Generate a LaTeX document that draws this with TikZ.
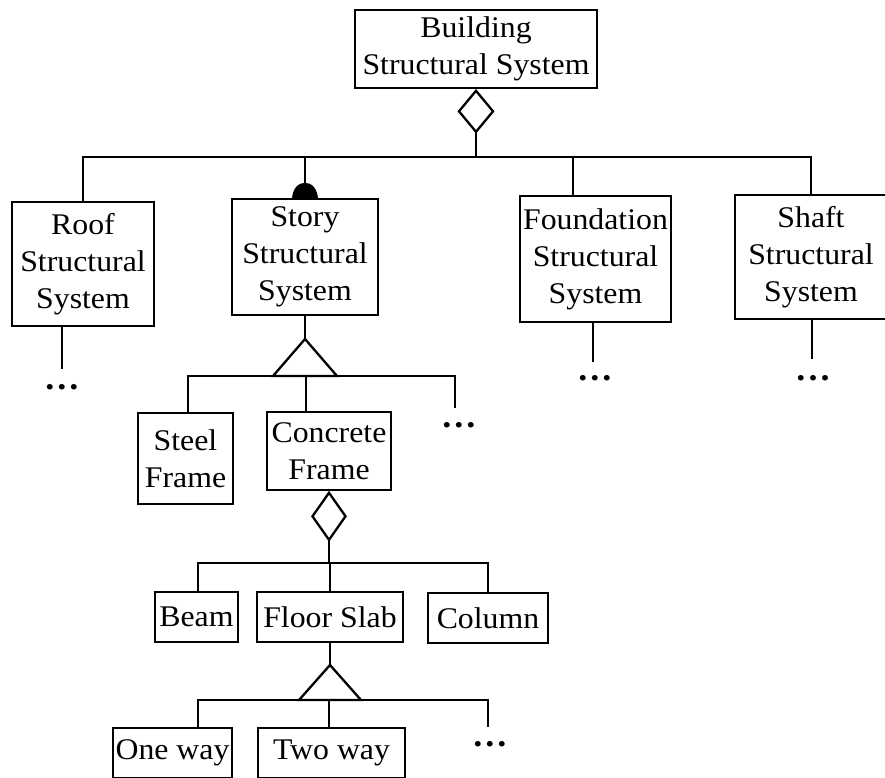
\documentclass[tikz,border=0pt]{standalone}
\usepackage{fontspec}
\setmainfont{Liberation Serif}[FakeStretch=1.06]
\usetikzlibrary{shapes.geometric}
\begin{document}
\begin{tikzpicture}[x=1pt,y=-1pt,
  cls/.style={draw, line width=2.3pt, align=center, inner sep=0pt,
    font=\fontsize{30}{37}\selectfont},
  link/.style={line width=2.3pt, line join=miter},
  agg/.style={draw, diamond, line width=2.3pt, inner sep=0pt, fill=white},
  more/.style={inner sep=0pt, font=\fontsize{34}{37}\selectfont\bfseries}
]
\useasboundingbox (0,0) rectangle (885,777);

% classes
\node[cls, minimum width=242pt, minimum height=78pt] (building) at (476,49) {Building\\Structural System};
\node[cls, minimum width=142pt, minimum height=124pt] (roof) at (83,264) {Roof\\Structural\\System};
\node[cls, minimum width=146pt, minimum height=116pt] (story) at (305,257) {Story\\Structural\\System};
\node[cls, minimum width=151pt, minimum height=126pt] (found) at (595.5,259) {Foundation\\Structural\\System};
\node[cls, minimum width=152pt, minimum height=124pt] (shaft) at (811,257) {Shaft\\Structural\\System};
\node[cls, minimum width=95pt, minimum height=91pt] (steel) at (185.5,458.5) {Steel\\Frame};
\node[cls, minimum width=124pt, minimum height=78pt] (concrete) at (329,451) {Concrete\\Frame};
\node[cls, minimum width=83pt, minimum height=50pt] (beam) at (196.5,617) {Beam};
\node[cls, minimum width=146pt, minimum height=50pt] (slab) at (330,617) {Floor Slab};
\node[cls, minimum width=120pt, minimum height=50pt] (column) at (488,618) {Column};
\node[cls, minimum width=119pt, minimum height=50pt] (oneway) at (172.5,753) {One way};
\node[cls, minimum width=147pt, minimum height=50pt] (twoway) at (331.5,753) {Two way};

% aggregation diamonds
\node[agg, minimum width=35pt, minimum height=42pt, anchor=north] (bdia) at (building.south) {};
\node[agg, minimum width=34pt, minimum height=48pt, anchor=north] (cdia) at (concrete.south) {};

% building decomposition
\coordinate (bj) at (476,157);
\coordinate (roofj) at (83,157);
\coordinate (storyj) at (305,157);
\coordinate (foundj) at (573,157);
\coordinate (shaftj) at (811,157);
\coordinate (foundt) at (573,196);
\draw[link] (bdia.south) -- (bj);
\draw[link] (roof.north) -- (roofj) -- (shaftj) -- (shaft.north);
\draw[link] (storyj) -- (story.north);
\draw[link] (foundj) -- (foundt);
\fill (292,199.5) .. controls (292,177) and (318,177) .. (318,199.5) -- cycle;

% continuation marks below the top level
\coordinate (roofb) at (62,326);
\coordinate (roofe) at (62,369);
\draw[link] (roofb) -- (roofe);
\node[more] (rdots) at (62,387) {.\kern3pt.\kern3pt.};
\coordinate (foundb) at (593,322);
\coordinate (founde) at (593,362);
\draw[link] (foundb) -- (founde);
\node[more] (fdots) at (595,378) {.\kern3pt.\kern3pt.};
\coordinate (shaftb) at (812,319);
\coordinate (shafte) at (812,359);
\draw[link] (shaftb) -- (shafte);
\node[more] (sdots) at (813,378) {.\kern3pt.\kern3pt.};

% story specialization
\coordinate (sta) at (305,339);
\coordinate (stl) at (273,376);
\coordinate (str) at (337,376);
\coordinate (stbl) at (188,376);
\coordinate (stbr) at (455,376);
\coordinate (steelt) at (188,413);
\coordinate (stcj) at (306,376);
\coordinate (stce) at (306,412);
\coordinate (stre) at (455,408);
\draw[link] (story.south) -- (sta);
\draw[link] (sta) -- (stl) -- (str) -- cycle;
\draw[link] (steelt) -- (stbl) -- (stbr) -- (stre);
\draw[link] (stcj) -- (stce);
\node[more] (stdots) at (459,425) {.\kern3pt.\kern3pt.};

% concrete frame decomposition
\coordinate (cj) at (329,563);
\coordinate (cbl) at (198,563);
\coordinate (cbr) at (488,563);
\coordinate (beamt) at (198,592);
\coordinate (slabj) at (330,563);
\coordinate (slabt) at (330,592);
\draw[link] (cdia.south) -- (cj);
\draw[link] (beamt) -- (cbl) -- (cbr) -- (column.north);
\draw[link] (slabj) -- (slabt);

% floor slab specialization
\coordinate (fsa) at (330,665);
\coordinate (fsl) at (299,700);
\coordinate (fsr) at (361,700);
\coordinate (fsbl) at (198,700);
\coordinate (fsbr) at (488,700);
\coordinate (onet) at (198,728);
\coordinate (twoj) at (329,700);
\coordinate (twot) at (329,728);
\coordinate (fsre) at (488,727);
\draw[link] (slab.south) -- (fsa);
\draw[link] (fsa) -- (fsl) -- (fsr) -- cycle;
\draw[link] (onet) -- (fsbl) -- (fsbr) -- (fsre);
\draw[link] (twoj) -- (twot);
\node[more] (fsdots) at (490,744) {.\kern3pt.\kern3pt.};
\end{tikzpicture}
\end{document}
